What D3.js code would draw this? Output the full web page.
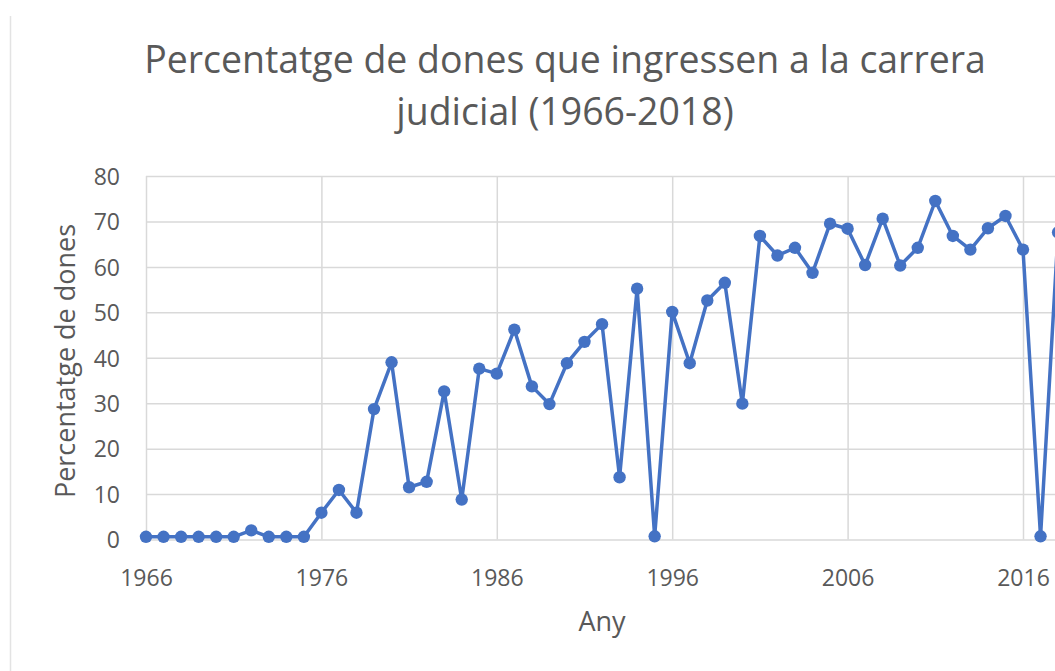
<!DOCTYPE html>
<html>
<head>
<meta charset="utf-8">
<script src="https://cdn.jsdelivr.net/npm/d3@7"></script>
<style>
  body { margin: 0; background: #fff; }
  text { font-family: "Open Sans", "Noto Sans", sans-serif; fill: #595959; }
</style>
</head>
<body>
<div id="chart"></div>
<script>
// Data
const years = d3.range(1966, 2019);
const percentatge = [
  0.6, 0.6, 0.6, 0.6, 0.6, 0.6, 2.0, 0.6, 0.6, 0.6,      // 1966-1975
  5.9, 10.9, 5.9, 28.7, 39.0, 11.5, 12.7, 32.6, 8.8, 37.6, // 1976-1985
  36.5, 46.2, 33.7, 29.8, 38.8, 43.5, 47.4, 13.7, 55.2, 0.7, // 1986-1995
  50.1, 38.8, 52.6, 56.5, 29.9, 66.8, 62.5, 64.2, 58.7, 69.5, // 1996-2005
  68.4, 60.4, 70.6, 60.3, 64.2, 74.5, 66.8, 63.8, 68.5, 71.2, // 2006-2015
  63.8, 0.7, 67.6                                             // 2016-2018
];
const xTicks = [1966, 1976, 1986, 1996, 2006, 2016];
const yTicks = [0, 10, 20, 30, 40, 50, 60, 70, 80];

const data = years.map((yr, i) => ({ year: yr, value: percentatge[i] }));

const width = 1055, height = 671;
const plot = { left: 146, top: 176, bottom: 539.5, right: 1070 };

const svg = d3.select("#chart")
    .append("svg")
    .attr("width", width)
    .attr("height", height);

// chart border (left edge visible in the crop)
svg.append("line")
    .attr("x1", 10.5).attr("x2", 10.5)
    .attr("y1", 16).attr("y2", height)
    .attr("stroke", "#e3e3e3")
    .attr("stroke-width", 1.5);

// Scales
const x = d3.scaleLinear().domain([1966, 2016]).range([plot.left, 1023]);
const y = d3.scaleLinear().domain([0, 80]).range([plot.bottom, plot.top]);

// Horizontal gridlines
const yGrid = svg.append("g")
    .attr("transform", `translate(${plot.left},0)`)
    .call(d3.axisLeft(y).tickValues(yTicks).tickSize(-(plot.right - plot.left)).tickFormat(""));
yGrid.select(".domain").remove();
yGrid.selectAll("line").attr("stroke", "#d9d9d9").attr("stroke-width", 1.5);

// Vertical gridlines
const xGrid = svg.append("g")
    .attr("transform", `translate(0,${plot.bottom})`)
    .call(d3.axisBottom(x).tickValues(xTicks).tickSize(-(plot.bottom - plot.top)).tickFormat(""));
xGrid.select(".domain").remove();
xGrid.selectAll("line").attr("stroke", "#d9d9d9").attr("stroke-width", 1.5);

// Tick labels
const xAxis = svg.append("g")
    .attr("transform", `translate(0,${plot.bottom})`)
    .call(d3.axisBottom(x).tickValues(xTicks).tickSize(0).tickFormat(d3.format("d")));
xAxis.select(".domain").remove();
xAxis.selectAll("text")
    .attr("y", 46)
    .attr("dy", 0)
    .style("font-size", "23px")
    .attr("fill", "#595959");

const yAxis = svg.append("g")
    .attr("transform", `translate(${plot.left},0)`)
    .call(d3.axisLeft(y).tickValues(yTicks).tickSize(0));
yAxis.select(".domain").remove();
yAxis.selectAll("text")
    .attr("x", -26)
    .attr("dy", "0.36em")
    .style("font-size", "23px")
    .attr("fill", "#595959");

// Line + markers
const line = d3.line().x(d => x(d.year)).y(d => y(d.value));

svg.append("path")
    .datum(data)
    .attr("fill", "none")
    .attr("stroke", "#4472c4")
    .attr("stroke-width", 3.5)
    .attr("stroke-linejoin", "round")
    .attr("d", line);

svg.selectAll(".dot")
    .data(data)
    .enter()
    .append("circle")
    .attr("class", "dot")
    .attr("cx", d => x(d.year))
    .attr("cy", d => y(d.value))
    .attr("r", 6.2)
    .attr("fill", "#4472c4");

// Title (two lines), sized to the reference width
const t1 = svg.append("text")
    .attr("x", 565).attr("y", 73)
    .style("text-anchor", "middle")
    .style("font-size", "32px")
    .text("Percentatge de dones que ingressen a la carrera");
const w1 = t1.node().getComputedTextLength();
const titleSize = 32 * 842 / w1;
t1.style("font-size", titleSize + "px");

svg.append("text")
    .attr("x", 565).attr("y", 125)
    .style("text-anchor", "middle")
    .style("font-size", titleSize + "px")
    .text("judicial (1966-2018)");

// Axis titles
svg.append("text")
    .attr("transform", "rotate(-90)")
    .attr("x", -361)
    .attr("y", 75)
    .style("text-anchor", "middle")
    .style("font-size", "27px")
    .text("Percentatge de dones");

svg.append("text")
    .attr("x", 602)
    .attr("y", 631)
    .style("text-anchor", "middle")
    .style("font-size", "27px")
    .text("Any");
</script>
</body>
</html>
